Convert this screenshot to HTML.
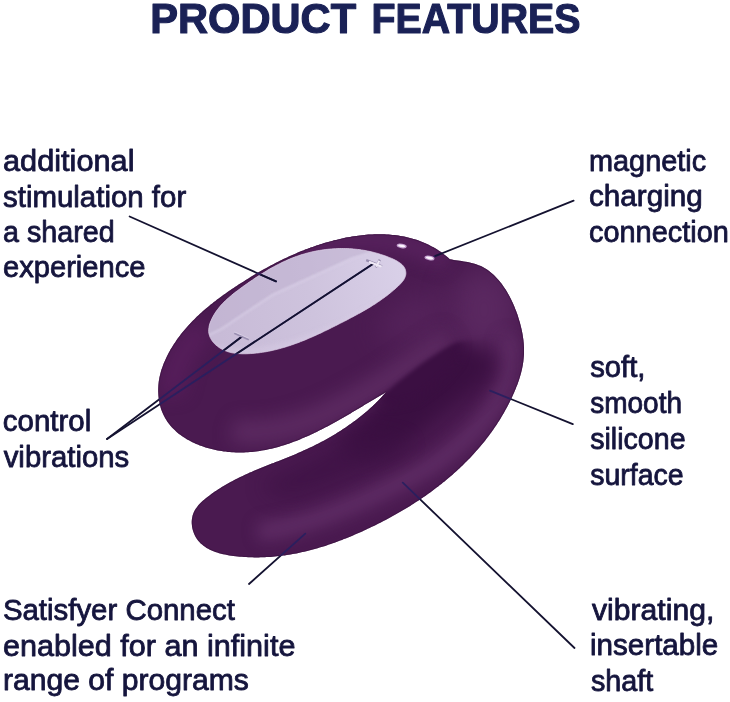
<!DOCTYPE html>
<html lang="en">
<head>
<meta charset="utf-8">
<title>Product Features</title>
<style>
html,body{margin:0;padding:0;background:#fff;}
body{width:730px;height:702px;overflow:hidden;position:relative;font-family:"Liberation Sans",sans-serif;}
svg{position:absolute;left:0;top:0;display:block;}
.t{font-family:"Liberation Sans",sans-serif;font-size:29px;fill:#15153d;stroke:#15153d;stroke-width:0.8;stroke-linejoin:round;}
.h{font-family:"Liberation Sans",sans-serif;font-weight:bold;font-size:42.5px;fill:#1a2156;stroke:#1a2156;stroke-width:1.2;stroke-linejoin:round;}
.lb{stroke:#272060 !important;}
.ln{stroke:#141230;stroke-width:1.8;fill:none;stroke-linecap:round;}
</style>
</head>
<body>
<svg width="730" height="702" viewBox="0 0 730 702">
<defs>
<clipPath id="bc"><path id="bodyp" d="M386.2,392.1 L384.5,393.1 L382.9,394.0 L381.2,395.0 L379.5,396.0 L377.8,397.0 L376.1,398.0 L374.5,399.0 L372.8,400.0 L371.1,401.0 L369.4,402.0 L367.7,403.1 L365.9,404.1 L364.2,405.1 L362.5,406.2 L360.8,407.2 L359.1,408.2 L357.3,409.2 L355.6,410.3 L353.9,411.3 L352.1,412.3 L350.4,413.4 L348.6,414.4 L346.9,415.4 L345.1,416.4 L343.4,417.5 L341.6,418.5 L339.8,419.5 L338.1,420.5 L336.3,421.5 L334.5,422.5 L332.7,423.5 L330.9,424.4 L329.1,425.4 L327.3,426.4 L325.5,427.3 L323.7,428.3 L321.9,429.2 L320.1,430.1 L318.3,431.0 L316.5,431.9 L314.6,432.8 L312.8,433.7 L311.0,434.5 L309.1,435.4 L307.3,436.2 L305.4,437.0 L303.6,437.8 L301.7,438.6 L299.9,439.4 L298.0,440.2 L296.1,440.9 L294.2,441.6 L292.4,442.3 L290.5,443.0 L288.6,443.7 L286.7,444.3 L284.8,444.9 L282.9,445.5 L281.0,446.1 L279.1,446.7 L277.2,447.2 L275.3,447.7 L273.3,448.2 L271.4,448.7 L269.5,449.1 L267.5,449.5 L265.6,449.9 L263.6,450.3 L261.7,450.6 L259.7,451.0 L257.8,451.2 L255.8,451.5 L253.8,451.7 L251.9,451.9 L249.9,452.1 L247.9,452.2 L245.9,452.3 L243.9,452.4 L241.9,452.5 L239.9,452.5 L237.9,452.5 L235.9,452.4 L233.9,452.3 L231.8,452.2 L229.8,452.1 L227.8,451.9 L225.8,451.6 L223.7,451.4 L221.7,451.1 L219.6,450.7 L217.6,450.4 L215.6,450.0 L213.6,449.5 L211.6,449.0 L209.6,448.5 L207.6,448.0 L205.6,447.4 L203.7,446.8 L201.7,446.1 L199.8,445.4 L197.9,444.6 L196.1,443.9 L194.2,443.0 L192.4,442.2 L190.6,441.3 L188.9,440.3 L187.1,439.4 L185.4,438.3 L183.8,437.3 L182.2,436.2 L180.6,435.1 L179.0,433.9 L177.5,432.7 L176.1,431.4 L174.7,430.1 L173.3,428.8 L172.0,427.4 L170.7,426.0 L169.5,424.5 L168.3,423.0 L167.2,421.4 L166.2,419.8 L165.2,418.2 L164.3,416.5 L163.4,414.8 L162.6,413.0 L161.9,411.2 L161.2,409.4 L160.6,407.5 L160.1,405.6 L159.6,403.6 L159.2,401.6 L158.9,399.6 L158.6,397.6 L158.4,395.6 L158.3,393.5 L158.2,391.4 L158.2,389.4 L158.3,387.3 L158.4,385.3 L158.6,383.2 L158.8,381.2 L159.2,379.2 L159.5,377.2 L160.0,375.2 L160.5,373.2 L161.0,371.2 L161.6,369.3 L162.3,367.4 L163.0,365.5 L163.7,363.6 L164.5,361.7 L165.3,359.9 L166.2,358.0 L167.0,356.2 L167.9,354.4 L168.9,352.6 L169.8,350.9 L170.8,349.1 L171.9,347.4 L172.9,345.7 L174.0,344.0 L175.1,342.4 L176.2,340.7 L177.3,339.1 L178.5,337.5 L179.7,335.9 L180.9,334.3 L182.1,332.7 L183.4,331.2 L184.7,329.7 L186.0,328.2 L187.3,326.7 L188.6,325.2 L190.0,323.7 L191.4,322.2 L192.8,320.8 L194.2,319.4 L195.6,318.0 L197.0,316.6 L198.5,315.2 L200.0,313.8 L201.5,312.5 L203.0,311.1 L204.5,309.8 L206.0,308.5 L207.6,307.2 L209.1,305.9 L210.7,304.6 L212.3,303.4 L213.9,302.1 L215.5,300.9 L217.1,299.6 L218.7,298.4 L220.3,297.2 L222.0,296.0 L223.6,294.8 L225.3,293.7 L226.9,292.5 L228.6,291.3 L230.2,290.2 L231.9,289.1 L233.6,287.9 L235.3,286.8 L237.0,285.7 L238.6,284.6 L240.3,283.5 L242.0,282.4 L243.7,281.4 L245.4,280.3 L247.1,279.2 L248.8,278.2 L250.5,277.1 L252.2,276.1 L253.9,275.1 L255.6,274.1 L257.3,273.1 L259.0,272.1 L260.7,271.1 L262.5,270.1 L264.2,269.1 L265.9,268.2 L267.6,267.2 L269.4,266.3 L271.1,265.3 L272.9,264.4 L274.6,263.5 L276.4,262.6 L278.1,261.7 L279.9,260.8 L281.6,260.0 L283.4,259.1 L285.2,258.2 L287.0,257.4 L288.8,256.6 L290.6,255.8 L292.4,255.0 L294.2,254.2 L296.0,253.4 L297.8,252.6 L299.7,251.8 L301.5,251.1 L303.4,250.4 L305.2,249.6 L307.1,248.9 L309.0,248.2 L310.9,247.5 L312.8,246.9 L314.7,246.2 L316.6,245.5 L318.5,244.9 L320.5,244.3 L322.4,243.7 L324.3,243.1 L326.3,242.5 L328.3,241.9 L330.2,241.4 L332.2,240.9 L334.2,240.3 L336.2,239.9 L338.2,239.4 L340.2,238.9 L342.2,238.5 L344.2,238.0 L346.2,237.6 L348.2,237.3 L350.2,236.9 L352.2,236.6 L354.2,236.2 L356.3,235.9 L358.3,235.7 L360.3,235.4 L362.3,235.2 L364.3,235.0 L366.4,234.8 L368.4,234.6 L370.4,234.5 L372.4,234.4 L374.4,234.3 L376.4,234.3 L378.4,234.2 L380.4,234.2 L382.4,234.3 L384.4,234.3 L386.4,234.4 L388.4,234.5 L390.4,234.7 L392.4,234.9 L394.3,235.1 L396.3,235.3 L398.2,235.6 L400.2,235.9 L402.1,236.2 L404.0,236.6 L406.0,237.0 L407.9,237.4 L409.8,237.9 L411.7,238.4 L413.5,238.9 L415.4,239.5 L417.3,240.1 L419.1,240.8 L420.9,241.4 L422.7,242.2 L424.6,242.9 L426.3,243.7 L428.1,244.6 L429.9,245.4 L431.6,246.4 L433.4,247.3 L435.1,248.3 L436.8,249.3 L438.5,250.4 L440.2,251.6 L441.8,252.7 L443.4,253.9 L445.1,255.2 L446.7,256.5 L448.2,257.8 L449.8,259.2 L451.7,259.6 L453.7,259.9 L455.6,260.2 L457.6,260.5 L459.6,260.8 L461.6,261.1 L463.6,261.4 L465.6,261.8 L467.6,262.1 L469.6,262.5 L471.5,263.0 L473.5,263.5 L475.4,264.0 L477.3,264.7 L479.1,265.4 L480.9,266.1 L482.7,267.0 L484.4,268.0 L486.1,269.0 L487.7,270.1 L489.3,271.3 L490.8,272.5 L492.3,273.8 L493.8,275.1 L495.2,276.5 L496.6,278.0 L498.0,279.4 L499.3,281.0 L500.5,282.5 L501.8,284.1 L502.9,285.7 L504.1,287.4 L505.2,289.1 L506.3,290.8 L507.3,292.5 L508.3,294.3 L509.3,296.0 L510.2,297.8 L511.1,299.6 L512.0,301.5 L512.9,303.3 L513.7,305.2 L514.5,307.0 L515.2,308.9 L516.0,310.8 L516.7,312.7 L517.4,314.6 L518.0,316.5 L518.6,318.5 L519.2,320.4 L519.8,322.3 L520.3,324.3 L520.8,326.2 L521.3,328.2 L521.7,330.1 L522.1,332.1 L522.5,334.0 L522.8,336.0 L523.1,338.0 L523.4,339.9 L523.6,341.9 L523.8,343.9 L523.9,345.9 L524.0,347.8 L524.0,349.8 L524.0,351.8 L524.0,353.8 L523.9,355.7 L523.7,357.7 L523.5,359.7 L523.3,361.7 L523.0,363.6 L522.7,365.6 L522.3,367.6 L521.9,369.5 L521.4,371.5 L520.9,373.4 L520.4,375.3 L519.8,377.3 L519.2,379.2 L518.6,381.1 L517.9,383.0 L517.2,384.9 L516.4,386.8 L515.7,388.7 L514.9,390.6 L514.1,392.5 L513.3,394.3 L512.4,396.2 L511.6,398.0 L510.7,399.8 L509.8,401.7 L508.9,403.5 L508.0,405.3 L507.1,407.0 L506.1,408.8 L505.1,410.6 L504.2,412.3 L503.2,414.1 L502.1,415.8 L501.1,417.5 L500.1,419.2 L499.0,420.9 L497.9,422.6 L496.9,424.3 L495.7,425.9 L494.6,427.6 L493.5,429.2 L492.4,430.8 L491.2,432.5 L490.0,434.1 L488.8,435.7 L487.6,437.2 L486.4,438.8 L485.2,440.4 L484.0,441.9 L482.7,443.5 L481.4,445.0 L480.2,446.6 L478.9,448.1 L477.6,449.6 L476.2,451.1 L474.9,452.6 L473.6,454.0 L472.2,455.5 L470.9,456.9 L469.5,458.4 L468.1,459.8 L466.7,461.2 L465.3,462.6 L463.9,464.0 L462.5,465.4 L461.0,466.8 L459.6,468.2 L458.1,469.6 L456.6,470.9 L455.1,472.2 L453.7,473.6 L452.2,474.9 L450.6,476.2 L449.1,477.5 L447.6,478.8 L446.1,480.1 L444.5,481.4 L442.9,482.6 L441.4,483.9 L439.8,485.1 L438.2,486.4 L436.6,487.6 L435.0,488.8 L433.4,490.0 L431.8,491.2 L430.2,492.4 L428.6,493.6 L426.9,494.7 L425.3,495.9 L423.6,497.0 L421.9,498.2 L420.3,499.3 L418.6,500.4 L416.9,501.5 L415.2,502.6 L413.5,503.7 L411.8,504.8 L410.1,505.9 L408.4,506.9 L406.7,508.0 L405.0,509.0 L403.2,510.1 L401.5,511.1 L399.8,512.1 L398.0,513.1 L396.3,514.1 L394.5,515.1 L392.7,516.1 L391.0,517.0 L389.2,518.0 L387.4,519.0 L385.6,519.9 L383.9,520.8 L382.1,521.8 L380.3,522.7 L378.5,523.6 L376.7,524.5 L374.9,525.4 L373.1,526.3 L371.3,527.1 L369.5,528.0 L367.6,528.8 L365.8,529.7 L364.0,530.5 L362.2,531.4 L360.4,532.2 L358.5,533.0 L356.7,533.8 L354.9,534.6 L353.0,535.4 L351.2,536.2 L349.4,536.9 L347.5,537.7 L345.7,538.4 L343.8,539.1 L342.0,539.9 L340.1,540.6 L338.3,541.3 L336.4,542.0 L334.5,542.7 L332.7,543.3 L330.8,544.0 L328.9,544.6 L327.1,545.2 L325.2,545.9 L323.3,546.5 L321.4,547.0 L319.5,547.6 L317.6,548.2 L315.7,548.7 L313.8,549.3 L311.9,549.8 L310.0,550.3 L308.1,550.8 L306.2,551.2 L304.2,551.7 L302.3,552.1 L300.4,552.6 L298.4,553.0 L296.5,553.4 L294.5,553.7 L292.6,554.1 L290.6,554.4 L288.7,554.8 L286.7,555.1 L284.7,555.4 L282.7,555.6 L280.8,555.9 L278.8,556.1 L276.8,556.3 L274.8,556.5 L272.8,556.7 L270.7,556.9 L268.7,557.0 L266.7,557.1 L264.7,557.2 L262.6,557.3 L260.6,557.3 L258.5,557.4 L256.5,557.4 L254.4,557.4 L252.3,557.3 L250.3,557.3 L248.2,557.2 L246.1,557.1 L244.0,557.0 L241.9,556.8 L239.8,556.7 L237.7,556.5 L235.6,556.2 L233.4,556.0 L231.3,555.7 L229.3,555.4 L227.2,555.0 L225.1,554.6 L223.1,554.2 L221.1,553.7 L219.1,553.2 L217.2,552.6 L215.3,551.9 L213.5,551.2 L211.7,550.5 L209.9,549.7 L208.2,548.8 L206.6,547.9 L205.0,546.8 L203.5,545.8 L202.1,544.6 L200.7,543.4 L199.4,542.1 L198.2,540.7 L197.1,539.2 L196.1,537.7 L195.1,536.0 L194.3,534.3 L193.6,532.6 L193.0,530.7 L192.5,528.9 L192.1,527.0 L191.9,525.1 L191.7,523.2 L191.7,521.3 L191.9,519.3 L192.2,517.4 L192.6,515.6 L193.2,513.7 L193.9,512.0 L194.8,510.2 L195.9,508.5 L197.1,506.9 L198.3,505.3 L199.7,503.8 L201.2,502.3 L202.8,500.8 L204.4,499.4 L206.1,498.0 L207.8,496.7 L209.5,495.4 L211.3,494.1 L213.1,492.8 L214.8,491.6 L216.6,490.5 L218.3,489.3 L220.1,488.2 L221.8,487.1 L223.6,486.1 L225.3,485.1 L227.0,484.0 L228.8,483.1 L230.5,482.1 L232.2,481.2 L233.9,480.2 L235.7,479.3 L237.4,478.5 L239.2,477.6 L240.9,476.7 L242.7,475.9 L244.5,475.1 L246.2,474.2 L248.0,473.4 L249.8,472.6 L251.6,471.9 L253.4,471.1 L255.2,470.3 L257.1,469.5 L258.9,468.8 L260.7,468.0 L262.6,467.3 L264.4,466.5 L266.3,465.8 L268.1,465.1 L270.0,464.3 L271.8,463.6 L273.7,462.9 L275.6,462.1 L277.4,461.4 L279.3,460.7 L281.2,459.9 L283.0,459.2 L284.9,458.5 L286.8,457.7 L288.6,457.0 L290.5,456.2 L292.4,455.4 L294.2,454.7 L296.1,453.9 L297.9,453.1 L299.8,452.3 L301.6,451.5 L303.5,450.6 L305.3,449.8 L307.1,449.0 L309.0,448.1 L310.8,447.2 L312.6,446.4 L314.4,445.5 L316.2,444.6 L318.0,443.7 L319.8,442.7 L321.6,441.8 L323.3,440.9 L325.1,439.9 L326.9,438.9 L328.6,437.9 L330.4,436.9 L332.1,435.9 L333.8,434.9 L335.6,433.9 L337.3,432.8 L339.0,431.8 L340.7,430.7 L342.4,429.6 L344.0,428.5 L345.7,427.4 L347.3,426.3 L349.0,425.1 L350.6,424.0 L352.3,422.8 L353.9,421.6 L355.5,420.4 L357.1,419.2 L358.6,418.0 L360.2,416.8 L361.8,415.5 L363.3,414.3 L364.8,413.0 L366.4,411.7 L367.9,410.4 L369.4,409.1 L370.8,407.8 L372.3,406.4 L373.8,405.0 L375.2,403.7 L376.6,402.3 L378.0,400.9 L379.4,399.4 L380.8,398.0 L382.2,396.6 L383.5,395.1 L384.9,393.6Z"/></clipPath>
<clipPath id="lc"><path id="lilp" d="M300.3,255.1 L302.2,254.5 L304.1,254.0 L306.0,253.4 L307.9,252.9 L309.9,252.4 L311.8,251.9 L313.8,251.5 L315.8,251.1 L317.7,250.7 L319.7,250.4 L321.7,250.1 L323.7,249.8 L325.7,249.5 L327.7,249.3 L329.7,249.1 L331.7,248.9 L333.7,248.8 L335.7,248.7 L337.7,248.6 L339.7,248.5 L341.7,248.5 L343.6,248.5 L345.6,248.6 L347.6,248.6 L349.6,248.7 L351.6,248.8 L353.5,249.0 L355.5,249.2 L357.4,249.4 L359.4,249.6 L361.3,249.9 L363.3,250.2 L365.2,250.5 L367.1,250.9 L369.1,251.3 L371.0,251.7 L373.0,252.2 L374.9,252.7 L376.9,253.2 L378.9,253.8 L380.9,254.5 L382.9,255.1 L385.0,255.8 L387.1,256.6 L389.1,257.4 L391.2,258.2 L393.2,259.1 L395.2,260.1 L397.1,261.1 L398.8,262.2 L400.4,263.3 L401.9,264.5 L403.1,265.8 L404.2,267.2 L405.0,268.7 L405.5,270.3 L405.8,271.9 L405.9,273.5 L405.7,275.1 L405.2,276.8 L404.5,278.4 L403.6,280.0 L402.5,281.5 L401.2,283.0 L399.8,284.5 L398.3,286.0 L396.7,287.4 L395.1,288.9 L393.5,290.2 L391.9,291.6 L390.3,292.9 L388.7,294.2 L387.1,295.5 L385.4,296.7 L383.8,297.9 L382.1,299.1 L380.5,300.3 L378.8,301.4 L377.1,302.5 L375.5,303.7 L373.8,304.7 L372.1,305.8 L370.4,306.9 L368.7,307.9 L367.0,308.9 L365.3,309.9 L363.5,310.9 L361.8,311.9 L360.1,312.9 L358.3,313.8 L356.6,314.8 L354.8,315.7 L353.1,316.7 L351.3,317.6 L349.6,318.5 L347.8,319.5 L346.0,320.4 L344.3,321.3 L342.5,322.2 L340.7,323.1 L338.9,324.0 L337.2,324.9 L335.4,325.8 L333.6,326.7 L331.8,327.6 L330.0,328.5 L328.2,329.4 L326.4,330.3 L324.6,331.1 L322.8,332.0 L321.0,332.9 L319.2,333.7 L317.3,334.6 L315.5,335.4 L313.7,336.2 L311.9,337.0 L310.0,337.8 L308.2,338.6 L306.3,339.4 L304.5,340.2 L302.6,340.9 L300.7,341.6 L298.9,342.4 L297.0,343.1 L295.1,343.7 L293.2,344.4 L291.4,345.1 L289.5,345.7 L287.6,346.3 L285.7,346.9 L283.7,347.5 L281.8,348.0 L279.9,348.6 L278.0,349.1 L276.0,349.6 L274.1,350.0 L272.1,350.5 L270.2,350.9 L268.2,351.3 L266.2,351.7 L264.3,352.0 L262.3,352.3 L260.3,352.6 L258.3,352.9 L256.3,353.1 L254.2,353.3 L252.2,353.5 L250.2,353.6 L248.2,353.7 L246.1,353.8 L244.1,353.8 L242.0,353.8 L240.0,353.7 L238.0,353.6 L236.0,353.4 L234.0,353.1 L232.0,352.8 L230.0,352.3 L228.1,351.8 L226.2,351.1 L224.4,350.4 L222.6,349.5 L220.8,348.6 L219.1,347.5 L217.5,346.3 L215.9,345.0 L214.4,343.6 L213.1,342.1 L211.9,340.5 L210.9,338.8 L210.0,337.1 L209.4,335.3 L208.9,333.5 L208.7,331.7 L208.7,329.8 L208.9,327.9 L209.2,326.0 L209.7,324.0 L210.4,322.1 L211.2,320.2 L212.0,318.4 L213.0,316.5 L214.0,314.7 L215.1,313.0 L216.2,311.3 L217.4,309.7 L218.7,308.1 L219.9,306.5 L221.2,305.0 L222.6,303.5 L224.0,302.1 L225.4,300.7 L226.9,299.3 L228.4,298.0 L229.9,296.7 L231.4,295.4 L233.0,294.1 L234.6,292.8 L236.2,291.6 L237.8,290.4 L239.4,289.2 L241.0,288.0 L242.7,286.8 L244.3,285.6 L245.9,284.5 L247.6,283.3 L249.3,282.1 L250.9,281.0 L252.6,279.9 L254.2,278.7 L255.9,277.6 L257.6,276.5 L259.3,275.4 L261.0,274.3 L262.7,273.3 L264.4,272.2 L266.1,271.2 L267.8,270.1 L269.5,269.1 L271.3,268.1 L273.0,267.2 L274.8,266.2 L276.5,265.3 L278.3,264.4 L280.1,263.5 L281.9,262.6 L283.6,261.7 L285.5,260.9 L287.3,260.1 L289.1,259.3 L290.9,258.5 L292.8,257.8 L294.6,257.1 L296.5,256.4 L298.4,255.8Z"/></clipPath>
<filter color-interpolation-filters="sRGB" id="b2" filterUnits="userSpaceOnUse" x="100" y="180" width="500" height="440"><feGaussianBlur stdDeviation="2"/></filter>
<mask id="dm" maskUnits="userSpaceOnUse" x="100" y="180" width="500" height="440"><path d="M600,320 L510,334 C490,338 470,339 456,342.5 C440,350 414,368 386.2,392.1 L300,440 L100,500 L100,620 L600,620Z" fill="#fff" filter="url(#b2)"/></mask>
<filter color-interpolation-filters="sRGB" id="b8" filterUnits="userSpaceOnUse" x="100" y="180" width="500" height="440"><feGaussianBlur stdDeviation="8"/></filter>
<filter color-interpolation-filters="sRGB" id="b9" filterUnits="userSpaceOnUse" x="100" y="180" width="500" height="440"><feGaussianBlur stdDeviation="9"/></filter>
<filter color-interpolation-filters="sRGB" id="b1" filterUnits="userSpaceOnUse" x="100" y="180" width="500" height="440"><feGaussianBlur stdDeviation="1.2"/></filter>
<filter color-interpolation-filters="sRGB" id="b5" filterUnits="userSpaceOnUse" x="100" y="180" width="500" height="440"><feGaussianBlur stdDeviation="5"/></filter>
<filter color-interpolation-filters="sRGB" id="b14" filterUnits="userSpaceOnUse" x="100" y="180" width="500" height="440"><feGaussianBlur stdDeviation="14"/></filter>
<filter color-interpolation-filters="sRGB" id="b10" filterUnits="userSpaceOnUse" x="100" y="180" width="500" height="440"><feGaussianBlur stdDeviation="10"/></filter>
<filter color-interpolation-filters="sRGB" id="b6" filterUnits="userSpaceOnUse" x="100" y="180" width="500" height="440"><feGaussianBlur stdDeviation="6"/></filter>
<filter color-interpolation-filters="sRGB" id="b3" filterUnits="userSpaceOnUse" x="100" y="180" width="500" height="440"><feGaussianBlur stdDeviation="3"/></filter>
<g id="lines">
<line x1="129.6" y1="216.5" x2="276" y2="281.4"/>
<line x1="573.6" y1="200.7" x2="434.5" y2="256.3"/>
<line x1="107" y1="439" x2="374" y2="263.3"/>
<line x1="107" y1="439" x2="242" y2="336.5"/>
<line x1="572.8" y1="424.1" x2="490" y2="390.6"/>
<line x1="574.5" y1="648" x2="402.8" y2="482.7"/>
<line x1="249" y1="584" x2="305.3" y2="533.6"/>
</g>
<linearGradient id="lg" gradientUnits="userSpaceOnUse" x1="215" y1="320" x2="405" y2="275">
<stop offset="0" stop-color="#c8bbd7"/><stop offset="0.5" stop-color="#cec3dd"/><stop offset="1" stop-color="#d9d0e8"/>
</linearGradient>
</defs>
<rect width="730" height="702" fill="#ffffff"/>
<use href="#lines" class="ln"/>
<use href="#bodyp" fill="#4a1a50"/>
<g clip-path="url(#bc)">
<path d="M300,250 C340,236 400,232 448,262" stroke="#5a2360" stroke-width="22" fill="none" filter="url(#b8)" opacity="0.8"/>
<!-- lighter top surface of the arm -->
<ellipse cx="484" cy="310" rx="34" ry="42" fill="#5a2860" filter="url(#b14)"/>
<ellipse cx="415" cy="318" rx="40" ry="22" fill="#54225a" filter="url(#b14)" transform="rotate(-30 415 318)"/>
<!-- highlight on lower rim of upper body -->
<path d="M172,396 C170,370 185,345 205,328" stroke="#5a1f5e" stroke-width="26" fill="none" filter="url(#b9)" opacity="0.75"/>
<path d="M232,430 C255,436 300,430 350,402 C385,384 420,358 450,338" stroke="#5e2c63" stroke-width="24" fill="none" filter="url(#b9)" opacity="0.9"/>
<!-- highlight along outer side of arm and shaft -->
<path d="M258,532 C300,528 365,503 431,466 C465,442 492,418 505,385 C510,370 511,350 508,335" stroke="#622f68" stroke-width="18" fill="none" filter="url(#b8)" opacity="0.9"/>
<!-- dark core of the tube -->
<g mask="url(#dm)">
<path d="M450,336 C430,348 405,368 384,390 C374,408 358,426 340,442 C350,462 372,462 396,450 C410,442 420,434 428,426 C455,404 488,384 494,368 C498,356 488,350 470,347 C462,344 456,340 450,336Z" fill="#3a0f41" filter="url(#b10)"/>
<path d="M352,432 C325,454 295,468 262,484 C275,504 300,496 315,490 C350,478 385,462 410,444Z" fill="#3d1144" filter="url(#b10)" opacity="0.7"/>
<path d="M458,330 L440,328 L366,380 L388,406 L415,400 L442,380 L458,360 L462,346Z" fill="#3b0f42" filter="url(#b5)"/>
</g>
<use href="#bodyp" fill="none" stroke="#36103c" stroke-width="2" opacity="0.5"/>
</g>
<use href="#lilp" fill="url(#lg)"/>
<g clip-path="url(#lc)">
<!-- darker upper band above the ridge -->
<path d="M190,345 L221,328.6 L272,294 L351,258 L380,249 L440,230 L300,220 L190,300Z" fill="#bfb1cf" opacity="0.55" filter="url(#b1)"/>
<!-- ridge -->
<path d="M205,337 L221.5,329 L272.5,295 L351.5,259 L400,243" stroke="#d8cee6" stroke-width="2.5" fill="none" filter="url(#b1)" opacity="0.7"/>
<!-- light lower rim -->
<path d="M205,345 C250,365 330,340 410,285" stroke="#ded2ea" stroke-width="3" fill="none" filter="url(#b3)" opacity="0.9"/>
</g>
<use href="#lilp" fill="none" stroke="#dccde6" stroke-width="1" opacity="0.7"/>
<use href="#lines" class="ln lb" clip-path="url(#bc)" opacity="0.9"/>
<g clip-path="url(#bc)"><line class="ln" x1="573.6" y1="200.7" x2="435.5" y2="255.9" opacity="0.85" stroke-width="1.5"/></g>
<use href="#lines" class="ln" clip-path="url(#lc)"/>
<!-- buttons -->
<g stroke-linecap="butt" fill="none">
<line x1="234.2" y1="332.2" x2="248.8" y2="338.7" stroke="#d9d0e6" stroke-width="1.4"/>
<line x1="234.2" y1="333.3" x2="248.8" y2="339.8" stroke="#9b8fb2" stroke-width="1.8"/>
<line x1="366.2" y1="260.2" x2="382" y2="266.4" stroke="#9a8fb0" stroke-width="2.4"/>
<line x1="379.8" y1="259.6" x2="375.8" y2="267.4" stroke="#9a8fb0" stroke-width="2.4"/>
<line x1="369" y1="261.7" x2="381.8" y2="266.8" stroke="#efe9f6" stroke-width="2"/>
<line x1="379.3" y1="260.8" x2="376.2" y2="266.8" stroke="#efe9f6" stroke-width="2"/>
</g>
<ellipse cx="401.7" cy="245.9" rx="5.1" ry="2.3" fill="#c29fce" transform="rotate(10 401.7 245.9)"/>
<ellipse cx="401.7" cy="245.9" rx="3.6" ry="1.2" fill="#fbf5fd" transform="rotate(10 401.7 245.9)"/>
<ellipse cx="429.5" cy="258" rx="5.1" ry="2.3" fill="#c29fce" transform="rotate(10 429.5 258)"/>
<ellipse cx="429.5" cy="258" rx="3.6" ry="1.2" fill="#fbf5fd" transform="rotate(10 429.5 258)"/>

<g opacity="0.999">
<text class="h" y="33.2"><tspan x="150.3" textLength="205.8" lengthAdjust="spacingAndGlyphs">PRODUCT</tspan> <tspan x="371.5" textLength="209" lengthAdjust="spacingAndGlyphs">FEATURES</tspan></text>
<text class="t" x="3.0" y="170.5" textLength="131.5" lengthAdjust="spacingAndGlyphs">additional</text>
<text class="t" x="3.0" y="206.7" textLength="183.2" lengthAdjust="spacingAndGlyphs">stimulation for</text>
<text class="t" x="3.0" y="241.8" textLength="111.6" lengthAdjust="spacingAndGlyphs">a shared</text>
<text class="t" x="3.0" y="277.3" textLength="142.5" lengthAdjust="spacingAndGlyphs">experience</text>
<text class="t" x="2.8" y="431.2" textLength="88.4" lengthAdjust="spacingAndGlyphs">control</text>
<text class="t" x="3.7" y="466.9" textLength="125.6" lengthAdjust="spacingAndGlyphs">vibrations</text>
<text class="t" x="2.9" y="620.2" textLength="232.0" lengthAdjust="spacingAndGlyphs">Satisfyer Connect</text>
<text class="t" x="2.9" y="655.9" textLength="292.5" lengthAdjust="spacingAndGlyphs">enabled for an infinite</text>
<text class="t" x="2.9" y="690.4" textLength="246" lengthAdjust="spacingAndGlyphs">range of programs</text>
<text class="t" x="589.0" y="170.6" textLength="117.2" lengthAdjust="spacingAndGlyphs">magnetic</text>
<text class="t" x="589.0" y="206.2" textLength="113.8" lengthAdjust="spacingAndGlyphs">charging</text>
<text class="t" x="589.0" y="241.9" textLength="139.8" lengthAdjust="spacingAndGlyphs">connection</text>
<text class="t" x="590.2" y="377.1" textLength="55.3" lengthAdjust="spacingAndGlyphs">soft,</text>
<text class="t" x="590.2" y="413.2" textLength="91.9" lengthAdjust="spacingAndGlyphs">smooth</text>
<text class="t" x="590.2" y="448.9" textLength="95.4" lengthAdjust="spacingAndGlyphs">silicone</text>
<text class="t" x="590.2" y="484.5" textLength="93.4" lengthAdjust="spacingAndGlyphs">surface</text>
<text class="t" x="592.0" y="619.7" textLength="122.3" lengthAdjust="spacingAndGlyphs">vibrating,</text>
<text class="t" x="590.0" y="655.2" textLength="128.3" lengthAdjust="spacingAndGlyphs">insertable</text>
<text class="t" x="591.0" y="690.8" textLength="62.3" lengthAdjust="spacingAndGlyphs">shaft</text>
</g>
</svg>
</body>
</html>
